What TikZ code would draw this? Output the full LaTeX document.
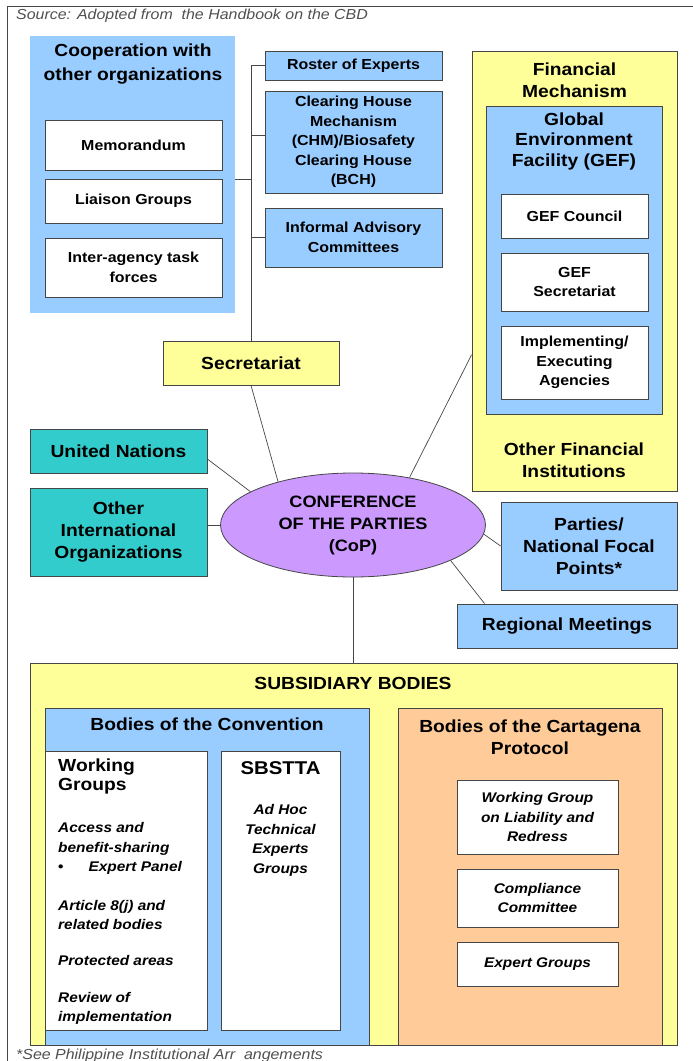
\documentclass[tikz,border=0pt]{standalone}
\usepackage{fontspec}
\setmainfont{Liberation Sans}[FakeStretch=1.1]
\definecolor{cbdblue}{RGB}{153,204,255}
\definecolor{cbdyellow}{RGB}{255,255,153}
\definecolor{cbdteal}{RGB}{51,204,204}
\definecolor{cbdviolet}{RGB}{204,153,255}
\definecolor{cbdorange}{RGB}{255,204,153}
\definecolor{cbdline}{RGB}{70,70,70}
\definecolor{cbdgray}{RGB}{80,80,80}
\newcommand\cbdtitle{\fontsize{17.5}{22}\selectfont\bfseries}
\newcommand\cbdbox{\fontsize{14.5}{19.5}\selectfont\bfseries}
\newcommand\cbditem{\fontsize{14}{19.5}\selectfont\bfseries\itshape}
\usetikzlibrary{calc,shapes.geometric}

\begin{document}
\begin{tikzpicture}[x=1pt,y=-1pt,
    box/.style={draw=cbdline,line width=0.8pt,inner sep=2pt,align=center,font=\cbdbox},
    bigbox/.style={box,font=\cbdtitle},
    panel/.style={draw=cbdline,line width=0.8pt,inner sep=0pt},
    title/.style={align=center,font=\cbdtitle,inner sep=0pt},
    item/.style={align=left,anchor=west,font=\cbditem,inner sep=0pt},
    link/.style={draw=cbdline,line width=0.7pt},
    note/.style={anchor=west,text=cbdgray,inner sep=0pt,font=\fontsize{14.5}{16}\selectfont\itshape}]
  \useasboundingbox (0,0) rectangle (693,1061);

  %% Frame and source
  \draw[cbdline,line width=0.8pt] (7,1061) -- (7,6) -- (693,6);
  \node[note] (source) at (16,16) {Source: Adopted from \ the Handbook on the CBD};
  \node[note] (footnote) at (16,1056) {*See Philippine Institutional Arr \ angements};

  %% Cooperation with other organizations
  \node[fill=cbdblue,minimum width=205,minimum height=277,inner sep=0pt] (coop) at (132.5,174.5) {};
  \node[title,font=\fontsize{17.5}{24}\selectfont\bfseries] (cooptitle) at (133,64) {Cooperation with\\other organizations};
  \node[box,fill=white,minimum width=177,minimum height=50] (memo) at (133.5,145) {Memorandum};
  \node[box,fill=white,minimum width=177,minimum height=44] (liaison) at (133.5,201) {Liaison Groups};
  \node[box,fill=white,minimum width=177,minimum height=59] (taskforce) at (133.5,267.5) {Inter-agency task\\forces};

  %% Secretariat services
  \node[box,fill=cbdblue,minimum width=177,minimum height=29] (roster) at (353.5,65.5) {Roster of Experts};
  \node[box,fill=cbdblue,minimum width=177,minimum height=102] (chm) at (353.5,142)
        {Clearing House\\Mechanism\\(CHM)/Biosafety\\Clearing House\\(BCH)};
  \node[box,fill=cbdblue,minimum width=177,minimum height=59] (advisory) at (353.5,237.5) {Informal Advisory\\Committees};
  \node[bigbox,fill=cbdyellow,minimum width=176,minimum height=44] (sec) at (251,363) {Secretariat};

  %% Financial mechanism
  \node[panel,fill=cbdyellow,minimum width=205,minimum height=440] (fin) at (574.5,271) {};
  \node[title] (fintitle) at (574.5,80) {Financial\\Mechanism};
  \node[panel,fill=cbdblue,minimum width=176,minimum height=308] (gef) at (574,260) {};
  \node[title,font=\fontsize{17.5}{20.5}\selectfont\bfseries] (geftitle) at (574,141) {Global\\Environment\\Facility (GEF)};
  \node[box,fill=white,minimum width=147,minimum height=44] (council) at (574.5,216) {GEF Council};
  \node[box,fill=white,minimum width=147,minimum height=58] (gefsec) at (574.5,282) {GEF\\Secretariat};
  \node[box,fill=white,minimum width=147,minimum height=73] (agencies) at (574.5,362.5) {Implementing/\\Executing\\Agencies};
  \node[title] (otherfin) at (574,460) {Other Financial\\Institutions};

  %% Conference of the Parties and partners
  \node[bigbox,fill=cbdteal,minimum width=177,minimum height=44] (un) at (118.5,451) {United Nations};
  \node[bigbox,fill=cbdteal,minimum width=177,minimum height=88] (otherint) at (118.5,532) {Other\\International\\Organizations};
  \node[ellipse,draw=cbdline,line width=0.8pt,fill=cbdviolet,minimum width=265,minimum height=104,
        inner sep=0pt,align=center,font=\fontsize{16.5}{22}\selectfont\bfseries] (cop) at (353,525)
        {CONFERENCE\\OF THE PARTIES\\(CoP)};
  \node[bigbox,fill=cbdblue,minimum width=176,minimum height=88] (parties) at (589,546) {Parties/\\National Focal\\Points*};
  \node[bigbox,fill=cbdblue,minimum width=220,minimum height=44] (regional) at (567,626) {Regional Meetings};

  %% Subsidiary bodies
  \node[panel,fill=cbdyellow,minimum width=647,minimum height=382] (sub) at (353.5,854) {};
  \node[title] (subtitle) at (353,683) {SUBSIDIARY BODIES};
  \node[panel,fill=cbdblue,minimum width=324,minimum height=337] (conv) at (207,876.5) {};
  \node[title] (convtitle) at (207,724) {Bodies of the Convention};
  \node[panel,fill=white,minimum width=162,minimum height=279] (wg) at (126,890.5) {};
  \node[title,align=left,anchor=west,font=\fontsize{17.5}{19.5}\selectfont\bfseries] (wgtitle) at (58,776.5) {Working\\Groups};
  \node[item] (abs) at (58,848.5) {Access and\\benefit-sharing\\{\upshape •}\hspace{25pt}Expert Panel};
  \node[item] (art8j) at (58,915) {Article 8(j) and\\related bodies};
  \node[item] (protected) at (58,960) {Protected areas};
  \node[item] (review) at (58,1008.5) {Review of\\implementation};
  \node[panel,fill=white,minimum width=119,minimum height=279] (sbstta) at (280.5,890.5) {};
  \node[title,font=\fontsize{18.5}{22}\selectfont\bfseries] (sbsttatitle) at (280.5,768) {SBSTTA};
  \node[item,anchor=center,align=center] (adhoc) at (280.5,840.5) {Ad Hoc\\Technical\\Experts\\Groups};

  \node[panel,fill=cbdorange,minimum width=264,minimum height=337] (carta) at (530,876.5) {};
  \node[title] (cartatitle) at (530,737) {Bodies of the Cartagena\\Protocol};
  \node[box,fill=white,font=\cbditem,minimum width=161,minimum height=74] (liability) at (537.5,817) {Working Group\\on Liability and\\Redress};
  \node[box,fill=white,font=\cbditem,minimum width=161,minimum height=58] (compliance) at (537.5,898) {Compliance\\Committee};
  \node[box,fill=white,font=\cbditem,minimum width=161,minimum height=44] (experts) at (537.5,964) {Expert Groups};

  %% Connectors
  \draw[link] (sec.north) -- (sec.north |- roster.west) -- (roster.west);
  \draw[link] ([yshift=7pt]chm.west) -- ([yshift=7pt]chm.west -| sec.north);
  \draw[link] (advisory.west) -- (advisory.west -| sec.north);
  \draw[link] ([yshift=-5pt]coop.east) -- ([yshift=-5pt]coop.east -| sec.north);
  \draw[link] (sec.south) -- (cop.150);
  \draw[link] ([yshift=-8pt]un.east) -- (cop.162);
  \draw[link] (cop.west) -- (cop.west -| otherint.east);
  \draw[link] (cop.40) -- ($(fin.south west)!0.31!(fin.north west)$);
  \draw[link] (cop.-4) -- (parties.west);
  \draw[link] (cop.-20) -- ($(regional.north west)+(28,0)$);
  \draw[link] (cop.south) -- (cop.south |- sub.north);
\end{tikzpicture}
\end{document}
